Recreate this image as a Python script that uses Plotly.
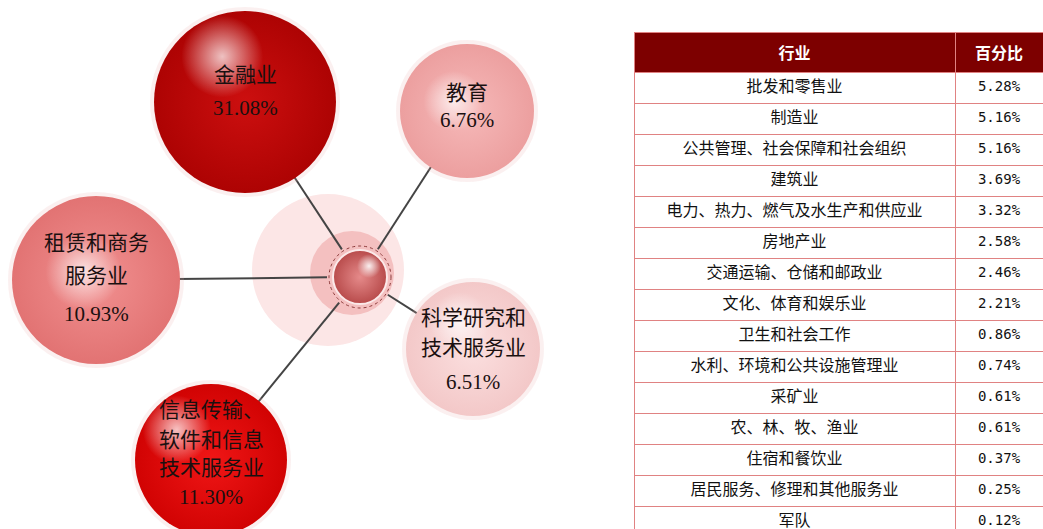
import math
import plotly.graph_objects as go

# bubbles: the five largest industries
bubble_names = ["金融业", "教育", "租赁和商务服务业", "科学研究和技术服务业", "信息传输、软件和信息技术服务业"]
bubble_share = [31.08, 6.76, 10.93, 6.51, 11.30]

# table: the rest
table_header = ["行业", "百分比"]
table_industry = [
    "批发和零售业", "制造业", "公共管理、社会保障和社会组织", "建筑业",
    "电力、热力、燃气及水生产和供应业", "房地产业", "交通运输、仓储和邮政业",
    "文化、体育和娱乐业", "卫生和社会工作", "水利、环境和公共设施管理业",
    "采矿业", "农、林、牧、渔业", "住宿和餐饮业", "居民服务、修理和其他服务业", "军队",
]
table_share = [5.28, 5.16, 5.16, 3.69, 3.32, 2.58, 2.46, 2.21, 0.86, 0.74, 0.61, 0.61, 0.37, 0.25, 0.12]

W, H = 1043, 529

# diagram layout, page pixels (y grows downwards)
bubble_xy = [(245, 102), (467, 111), (96, 280), (473, 349), (211, 460)]
bubble_r = [91, 67, 84, 67, 76]
bubble_fill = ["#cc0f0f", "#f6b9b9", "#f19090", "#fbdfdf", "#f01616"]
bubble_edge = ["#ad0303", "#ec9f9f", "#e27373", "#f3c8c8", "#d10303"]
bubble_glint = [(-0.25, -0.5), (-0.2, -0.15), (-0.15, -0.1), (-0.2, -0.4), (-0.45, -0.4)]
bubble_lines = [["金融业"], ["教育"], ["租赁和商务", "服务业"], ["科学研究和", "技术服务业"],
                ["信息传输、", "软件和信息", "技术服务业"]]
label_top = [-27, -18, -37, -31, -50]
label_gap = [[33], [27], [33, 38], [30, 34], [30, 28, 29]]

hub_xy = (360, 277)
hub_r = 27

fig = go.Figure()


def disc(x, y, size, color, center=None, line=None):
    marker = dict(size=size, color=color, line=line or dict(width=0))
    if center:
        marker["gradient"] = dict(type="radial", color=center)
    fig.add_trace(go.Scatter(x=[x], y=[y], mode="markers", marker=marker,
                             hoverinfo="skip", showlegend=False))


# hub background
disc(328, 270, 152, "#fce6e6")
disc(352, 273, 84, "#f4c0c0")

# connectors
for (bx, by), r in zip(bubble_xy, bubble_r):
    dx, dy = hub_xy[0] - bx, hub_xy[1] - by
    d = math.hypot(dx, dy)
    ux, uy = dx / d, dy / d
    fig.add_trace(go.Scatter(
        x=[bx + ux * (r - 4), hub_xy[0] - ux * 33],
        y=[by + uy * (r - 4), hub_xy[1] - uy * 33],
        mode="lines", line=dict(color="#444444", width=2),
        hoverinfo="skip", showlegend=False))

# hub sphere
disc(hub_xy[0], hub_xy[1], 2 * hub_r, "#b84b4b", "#e58a8a", dict(color="#fbe9e9", width=2))
disc(hub_xy[0] + 9, hub_xy[1] - 11, 24, "rgba(255,255,255,0)", "rgba(255,255,255,0.9)")
fig.add_shape(type="circle", xref="x", yref="y",
              x0=hub_xy[0] - 31, x1=hub_xy[0] + 31, y0=hub_xy[1] - 31, y1=hub_xy[1] + 31,
              line=dict(color="#8c3a3a", width=1, dash="dot"))

# bubbles
for i, ((bx, by), r) in enumerate(zip(bubble_xy, bubble_r)):
    disc(bx, by, 2 * r + 8, "rgba(235,170,170,0.18)")
    disc(bx, by, 2 * r, bubble_edge[i], bubble_fill[i])
    gx, gy = bubble_glint[i]
    disc(bx + gx * r, by + gy * r, 0.9 * r, "rgba(255,255,255,0)", "rgba(255,255,255,0.75)")

    lines = bubble_lines[i] + [f"{bubble_share[i]:.2f}%"]
    y = by + label_top[i]
    for k, txt in enumerate(lines):
        fig.add_annotation(x=bx, y=y, xref="x", yref="y", text=txt, showarrow=False,
                           font=dict(size=21, color="#1a1010",
                                     family="Liberation Serif, Noto Sans CJK SC"))
        if k < len(label_gap[i]):
            y += label_gap[i][k]

# table
fig.add_trace(go.Table(
    domain=dict(x=[634 / W, 1], y=[0, 1 - 32 / H]),
    columnwidth=[321, 88],
    header=dict(
        values=[f"<b>{h}</b>" for h in table_header],
        fill_color="#7d0000", line=dict(color="#e08282", width=1),
        font=dict(color="white", size=16, family="Noto Sans CJK SC"),
        height=30, align="center"),
    cells=dict(
        values=[table_industry, [f"{v:.2f}%" for v in table_share]],
        fill_color="white", line=dict(color="#e08282", width=1),
        font=dict(color="#111111", size=[16, 14], family=["Noto Sans CJK SC", "DejaVu Sans Mono"]),
        height=31, align="center"),
))

fig.update_xaxes(range=[0, W], visible=False, domain=[0, 1])
fig.update_yaxes(range=[H, 0], visible=False, domain=[0, 1])
fig.update_layout(width=W, height=H, margin=dict(l=0, r=0, t=0, b=0),
                  plot_bgcolor="white", paper_bgcolor="white", showlegend=False)

# drop the page's default body margin so the figure sits at the window's corner
fig.write_html("out.html", config={"displayModeBar": False},
               post_script="document.body.style.margin='0';document.body.style.overflow='hidden';")
